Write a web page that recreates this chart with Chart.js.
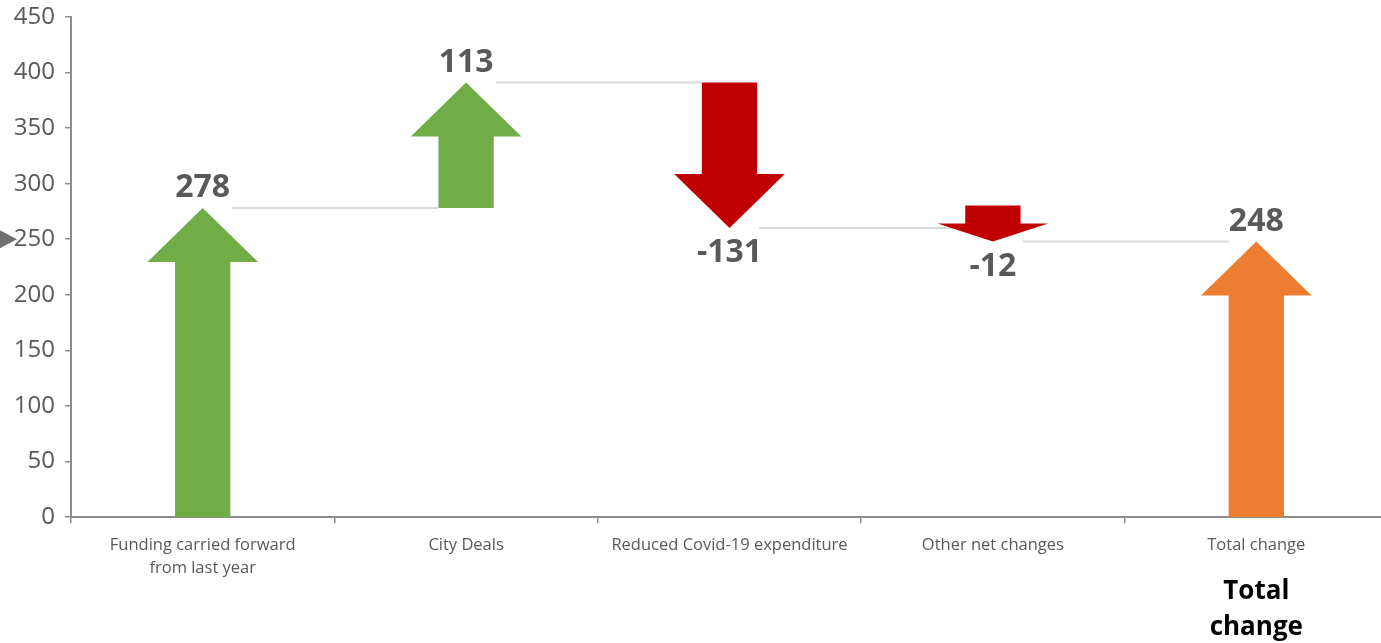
<!DOCTYPE html>
<html>
<head>
<meta charset="utf-8">
<script src="https://cdn.jsdelivr.net/npm/chart.js@4.4.1/dist/chart.umd.min.js"></script>
<style>
  html, body { margin: 0; padding: 0; background: #fff; overflow: hidden; }
  #wrap { width: 1388px; height: 643px; position: relative; }
</style>
</head>
<body>
<div id="wrap"><canvas id="chart"></canvas></div>
<script>
// categories and step values of the waterfall
const categories = [
  ["Funding carried forward", "from last year"],
  "City Deals",
  "Reduced Covid-19 expenditure",
  "Other net changes",
  "Total change"
];
const changes = [278, 113, -131, -12, 248];
const isTotal = [false, false, false, false, true];
const yMin = 0;
const yMax = 450;
const yStep = 50;
const markerValue = 250;
const footNote = ["Total", "change"];

const GREEN = "#70ad47";
const RED = "#c00000";
const ORANGE = "#ed7d31";
const TEXT = "#595959";
const AXIS = "#8c8c8c";

// running totals -> floating [start, end] pairs
const ranges = [];
let level = 0;
changes.forEach((v, i) => {
  if (isTotal[i]) {
    ranges.push([0, v]);
    level = v;
  } else {
    ranges.push([level, level + v]);
    level += v;
  }
});

const colours = changes.map((v, i) => isTotal[i] ? ORANGE : (v >= 0 ? GREEN : RED));

const arrowPlugin = {
  id: "arrows",
  beforeDatasetsDraw(chart) {
    const ctx = chart.ctx;
    const ys = chart.scales.y;
    const bars = chart.getDatasetMeta(0).data;
    ctx.save();
    ctx.strokeStyle = "#d9d9d9";
    ctx.lineWidth = 2;
    for (let i = 0; i < bars.length - 1; i++) {
      const yy = ys.getPixelForValue(ranges[i][1]);
      const x1 = bars[i].x + bars[i].width / 2 + 2;
      const x2 = bars[i + 1].x - bars[i + 1].width / 2;
      ctx.beginPath();
      ctx.moveTo(x1, yy);
      ctx.lineTo(x2, yy);
      ctx.stroke();
    }
    ctx.restore();
  },
  afterDatasetsDraw(chart) {
    const ctx = chart.ctx;
    const ys = chart.scales.y;
    const xs = chart.scales.x;
    const bars = chart.getDatasetMeta(0).data;
    ctx.save();
    bars.forEach((bar, i) => {
      const up = ranges[i][1] >= ranges[i][0];
      const dir = up ? -1 : 1;
      const tip = ys.getPixelForValue(ranges[i][1]);
      let tail = ys.getPixelForValue(ranges[i][0]);
      // keep short steps readable
      if (Math.abs(tip - tail) < 36) tail = tip - dir * 36;
      const len = Math.abs(tip - tail);
      const head = Math.min(54, len / 2);
      const half = bar.width / 2;
      const headHalf = bar.width * 1.0;
      const neck = tip - dir * head;
      ctx.fillStyle = colours[i];
      ctx.beginPath();
      ctx.moveTo(bar.x - half, tail);
      ctx.lineTo(bar.x - half, neck);
      ctx.lineTo(bar.x - headHalf, neck);
      ctx.lineTo(bar.x, tip);
      ctx.lineTo(bar.x + headHalf, neck);
      ctx.lineTo(bar.x + half, neck);
      ctx.lineTo(bar.x + half, tail);
      ctx.closePath();
      ctx.fill();

      // value label beyond the tip
      ctx.fillStyle = TEXT;
      ctx.font = "bold 32px 'Open Sans'";
      ctx.textAlign = "center";
      ctx.textBaseline = "middle";
      ctx.fillText(String(changes[i]), bar.x, tip + dir * (up ? 20 : 25));
    });

    // small marker at the left of the value axis
    const my = ys.getPixelForValue(markerValue);
    ctx.fillStyle = "#707070";
    ctx.beginPath();
    ctx.moveTo(0, my - 9);
    ctx.lineTo(17, my);
    ctx.lineTo(0, my + 9);
    ctx.closePath();
    ctx.fill();

    // note under the last category
    const lx = xs.getPixelForValue(categories.length - 1);
    ctx.fillStyle = "#000";
    ctx.font = "bold 26px 'Open Sans'";
    footNote.forEach((t, k) => ctx.fillText(t, lx, 592 + k * 36));
    ctx.restore();
  }
};

new Chart(document.getElementById("chart"), {
  type: "bar",
  data: {
    labels: categories,
    datasets: [{
      data: ranges,
      backgroundColor: "rgba(0,0,0,0)",
      borderWidth: 0,
      barPercentage: 0.21,
      categoryPercentage: 1
    }]
  },
  plugins: [arrowPlugin],
  options: {
    responsive: true,
    maintainAspectRatio: false,
    animation: false,
    layout: { padding: { top: 17, right: 0, bottom: 0, left: 0 } },
    plugins: {
      legend: { display: false },
      tooltip: { enabled: false }
    },
    scales: {
      x: {
        afterFit(scale) { scale.height = 126; },
        grid: {
          offset: true,
          drawOnChartArea: false,
          drawTicks: true,
          tickLength: 6,
          color: AXIS,
          lineWidth: 1.5
        },
        border: { color: AXIS, width: 2 },
        ticks: {
          color: TEXT,
          padding: 11,
          maxRotation: 0,
          autoSkip: false,
          font: { family: "'Open Sans'", size: 16.5, lineHeight: 1.4 }
        }
      },
      y: {
        min: yMin,
        max: yMax,
        afterFit(scale) { scale.width = 71; },
        grid: {
          drawOnChartArea: false,
          drawTicks: true,
          tickLength: 6,
          color: AXIS,
          lineWidth: 1.5
        },
        border: { color: AXIS, width: 2 },
        ticks: {
          stepSize: yStep,
          color: TEXT,
          padding: 10,
          font: { family: "'Open Sans'", size: 24, lineHeight: 0.5 }
        }
      }
    }
  }
});
</script>
</body>
</html>
